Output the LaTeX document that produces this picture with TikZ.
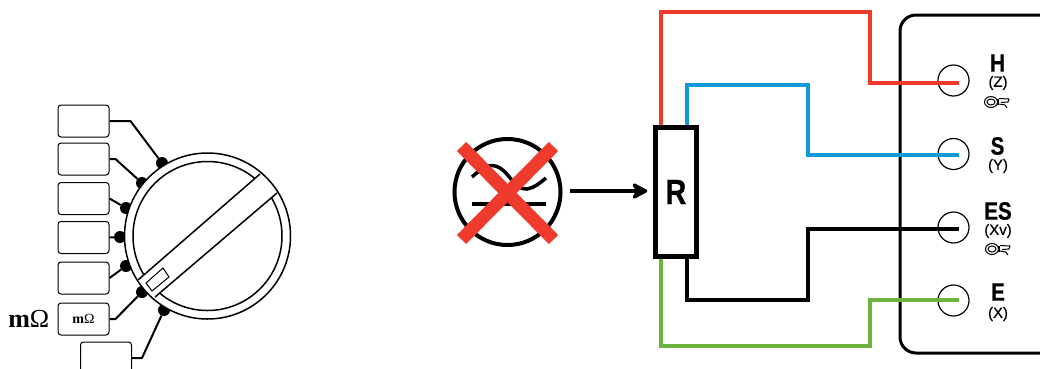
\documentclass[tikz,border=0pt]{standalone}
\usepackage{fontspec}
\newfontfamily\labelfont[FakeStretch=.82,BoldFeatures={FakeBold=.6}]{Liberation Sans}
\newfontfamily\subfont[FakeBold=.4]{Liberation Sans}
\newfontfamily\unitfont{Liberation Serif}
\usetikzlibrary{arrows.meta,positioning}
\definecolor{wirered}{HTML}{EF3B2D}
\definecolor{wireblue}{HTML}{0F9BD7}
\definecolor{wiregreen}{HTML}{6DB43F}
\tikzset{
  rangebox/.style={draw,rounded corners=3pt,line width=1pt,minimum width=51pt,minimum height=32pt,inner sep=0pt,fill=white},
  leadline/.style={line width=2pt,line join=round},
  contact/.style={circle,fill=black,minimum size=12pt,inner sep=0pt},
  wire/.style={line width=4.5pt,line join=miter},
  terminal/.style={circle,draw,line width=1.2pt,minimum size=31pt,inner sep=0pt},
  bigtag/.style={font=\labelfont\bfseries\fontsize{25}{25}\selectfont,inner sep=0pt},
  subtag/.style={font=\subfont\fontsize{15}{15}\selectfont,inner sep=0pt},
  clamp/.pic={
    \draw[line width=1pt] (-6,0) ellipse (6.5 and 5.5);
    \draw[line width=1pt] (-6,0) ellipse (4 and 3);
    \fill (0,-3) rectangle (2,3);
    \draw[line width=1pt] (2,-3.5) -- (12,-3) -- (11,0) -- (4,.5);
    \draw[line width=1pt] (2,2) -- (8,3) -- (10,6);
  }
}
\begin{document}
\begin{tikzpicture}[x=1pt,y=-1pt]
  \useasboundingbox (0,0) rectangle (1040,368);

  % range boxes
  \node[rangebox] (r1) at (83.5,121) {};
  \node[rangebox] (r2) at (83.5,159) {};
  \node[rangebox] (r3) at (83.5,198.5) {};
  \node[rangebox] (r4) at (83.5,237.5) {};
  \node[rangebox] (r5) at (83.5,278) {};
  \node[rangebox,font=\unitfont\fontsize{14}{14}\selectfont] (r6) at (83.5,319) {\textbf{m}Ω};
  \node[rangebox] (r7) at (106,358) {};
  \node[font=\unitfont\fontsize{26}{26}\selectfont,inner sep=0pt,left=8pt of r6] (mohm) {\textbf{m}Ω};

  % contacts
  \node[contact] (c1) at (162,163) {};
  \node[contact] (c2) at (142,183) {};
  \node[contact] (c3) at (126,208) {};
  \node[contact] (c4) at (120,237) {};
  \node[contact] (c5) at (126,266) {};
  \node[contact] (c6) at (142,292) {};
  \node[contact] (c7) at (164,310) {};
  \draw[leadline] (r1.east) -- ++(21,0) -- (c1);
  \draw[leadline] (r2.east) -- ++(6,0) -- (c2);
  \draw[leadline] (r3.east) -- (c3);
  \draw[leadline] (r4.east) -- (c4);
  \draw[leadline] (r5.east) -- (c5);
  \draw[leadline] (r6.east) -- ++(6,0) -- (c6);
  \draw[leadline] (r7.east) -- ++(10,0) -- (c7);

  % dial
  \node[circle,draw,fill=white,line width=1.5pt,minimum size=166pt,inner sep=0pt] (dial) at (207.5,236) {};
  \node[circle,draw,line width=1.5pt,minimum size=149pt,inner sep=0pt] (knob) at (207.5,236) {};
  \fill[white] (260,174) -- (277,193) -- (155,297) -- (138,280) -- cycle;
  \draw[line width=1.5pt] (260,174) -- (138,280);
  \draw[line width=1.5pt] (277,193) -- (155,297);
  \draw[line width=1pt] (146,283) -- (163,268) -- (169,277) -- (152,291) -- cycle;

  % crossed symbol
  \node[circle,draw,line width=4pt,minimum size=106pt,inner sep=0pt] (sym) at (507.5,192) {};
  \draw[line width=3.5pt] (472,177) .. controls (482,168) and (490,162) .. (500,168) .. controls (510,174) and (515,190) .. (527,189) .. controls (534,188) and (540,183) .. (546,178);
  \draw[line width=3.5pt] (472,204) -- (546,204);
  \draw[wirered,line width=13pt] (461.5,146.5) -- (553.5,239.5);
  \draw[wirered,line width=13pt] (553.5,146.5) -- (461.5,239.5);

  % resistor
  \node[draw,line width=4.5pt,minimum width=41pt,minimum height=129pt,inner sep=0pt,
    font=\labelfont\bfseries\fontsize{35}{35}\selectfont] (res) at (676,192) {R};
  \coordinate (arrowstart) at (570,191);
  \draw[line width=4.5pt,shorten >=6pt,-{Stealth[length=19pt,width=20pt,inset=6pt,round]}] (arrowstart) -- (arrowstart -| res.west);

  % instrument
  \draw[line width=3pt,rounded corners=16pt] (1060,15) -- (900,15) -- (900,353) -- (1060,353);
  \node[terminal] (H) at (953.5,80.5) {};
  \node[terminal] (S) at (953.5,154) {};
  \node[terminal] (ES) at (953.5,227.5) {};
  \node[terminal] (E) at (953.5,300.5) {};
  \node[bigtag] (Ht) at (997.5,63) {H};
  \node[subtag] (Hs) at (998,83) {(Z)};
  \node[bigtag] (St) at (997.5,146) {S};
  \node[subtag] (Ss) at (998,166) {(Y)};
  \node[bigtag] (ESt) at (998,211) {ES};
  \node[subtag] (ESs) at (998,231) {(Xv)};
  \node[bigtag] (Et) at (998,292) {E};
  \node[subtag] (Es) at (998,314) {(X)};
  \pic at (997,102) {clamp};
  \pic at (998,249) {clamp};

  % wires
  \coordinate (Hend) at (959,83);
  \coordinate (Send) at (959,155);
  \coordinate (ESend) at (959,229);
  \coordinate (Eend) at (959,300);
  \draw[wire,wirered] ([xshift=-15pt]res.north) -- ++(0,-113.5) -| (870,83) -- (Hend);
  \draw[wire,wireblue] ([xshift=11pt]res.north) |- (808,85) |- (Send);
  \draw[wire] ([xshift=11pt]res.south) |- (808,300) |- (ESend);
  \draw[wire,wiregreen] ([xshift=-15pt]res.south) |- (870,346) |- (Eend);
\end{tikzpicture}
\end{document}
